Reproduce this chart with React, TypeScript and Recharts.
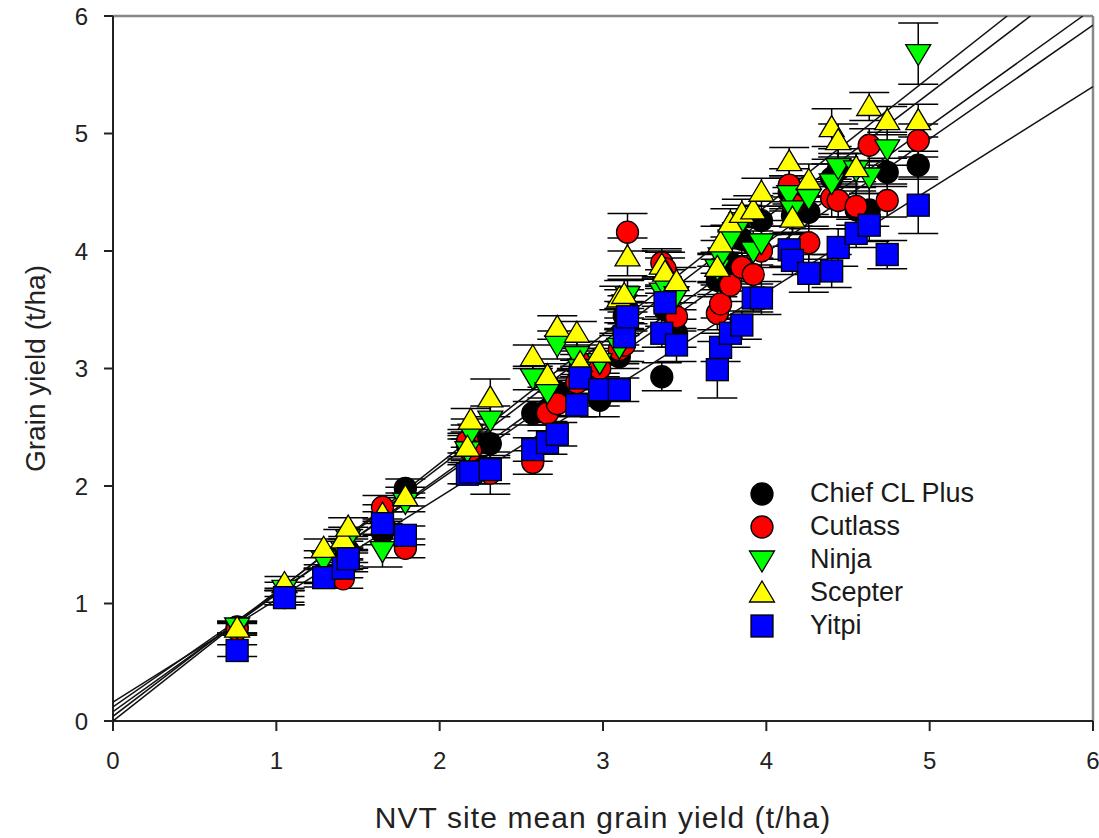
import React from 'react';
import { ScatterChart, Scatter, XAxis, YAxis, ErrorBar, Legend, ReferenceLine, Label } from 'recharts';

// NVT site mean grain yield (t/ha)
const sites = [0.76, 1.05, 1.29, 1.41, 1.44, 1.65, 1.79, 2.17, 2.19, 2.31, 2.57, 2.66, 2.72, 2.84, 2.86, 2.98, 3.10, 3.13, 3.15, 3.36, 3.38, 3.45, 3.70, 3.72, 3.78, 3.85, 3.92, 3.97, 4.14, 4.16, 4.26, 4.40, 4.44, 4.55, 4.63, 4.74, 4.93];

const chiefY = [0.80, 1.07, 1.25, 1.40, 1.45, 1.60, 1.98, 2.35, 2.40, 2.36, 2.62, 2.65, 2.80, 2.88, 2.95, 2.73, 3.10, 3.45, 3.50, 2.93, 3.50, 3.30, 3.75, 3.85, 3.90, 4.10, 4.05, 4.26, 4.50, 4.30, 4.33, 4.62, 4.69, 4.35, 4.35, 4.67, 4.73];
const chiefErr = [0.05, 0.06, 0.08, 0.08, 0.10, 0.10, 0.08, 0.10, 0.12, 0.12, 0.10, 0.10, 0.12, 0.10, 0.12, 0.14, 0.10, 0.12, 0.12, 0.12, 0.14, 0.12, 0.12, 0.14, 0.12, 0.14, 0.12, 0.12, 0.14, 0.16, 0.14, 0.16, 0.14, 0.16, 0.14, 0.12, 0.12];

const cutlassY = [0.78, 1.05, 1.24, 1.21, 1.35, 1.82, 1.47, 2.38, 2.30, 2.11, 2.20, 2.62, 2.70, 2.88, 3.05, 3.00, 3.16, 3.20, 4.16, 3.90, 3.85, 3.44, 3.47, 3.55, 3.71, 3.86, 3.80, 4.00, 4.56, 4.40, 4.07, 4.45, 4.43, 4.38, 4.90, 4.43, 4.94];
const cutlassErr = [0.05, 0.06, 0.06, 0.08, 0.08, 0.10, 0.08, 0.10, 0.10, 0.18, 0.10, 0.10, 0.10, 0.12, 0.12, 0.12, 0.12, 0.14, 0.16, 0.12, 0.14, 0.12, 0.14, 0.12, 0.14, 0.12, 0.14, 0.14, 0.14, 0.14, 0.14, 0.16, 0.14, 0.16, 0.14, 0.14, 0.14];

const ninjaY = [0.80, 1.12, 1.37, 1.45, 1.55, 1.45, 1.86, 2.30, 2.45, 2.56, 2.92, 2.80, 3.20, 3.11, 3.00, 3.05, 3.18, 3.55, 3.62, 3.65, 3.70, 3.62, 3.85, 3.95, 4.10, 4.25, 4.00, 4.07, 4.48, 4.35, 4.45, 4.58, 4.71, 4.69, 4.63, 4.87, 5.68];
const ninjaErr = [0.05, 0.06, 0.08, 0.08, 0.10, 0.14, 0.08, 0.10, 0.12, 0.12, 0.10, 0.10, 0.12, 0.12, 0.12, 0.12, 0.12, 0.12, 0.14, 0.12, 0.14, 0.12, 0.12, 0.14, 0.12, 0.14, 0.12, 0.14, 0.14, 0.14, 0.14, 0.16, 0.16, 0.14, 0.14, 0.14, 0.26];

const scepterY = [0.79, 1.17, 1.47, 1.55, 1.65, 1.76, 1.91, 2.33, 2.56, 2.75, 3.10, 2.94, 3.35, 3.30, 3.05, 3.13, 3.60, 3.63, 3.95, 3.88, 3.82, 3.74, 3.86, 4.07, 4.24, 4.32, 4.35, 4.50, 4.76, 4.28, 4.60, 5.05, 4.94, 4.71, 5.23, 5.11, 5.11];
const scepterErr = [0.05, 0.06, 0.08, 0.08, 0.08, 0.08, 0.08, 0.10, 0.10, 0.16, 0.10, 0.10, 0.10, 0.10, 0.10, 0.10, 0.10, 0.12, 0.16, 0.12, 0.12, 0.12, 0.12, 0.14, 0.12, 0.12, 0.12, 0.12, 0.12, 0.12, 0.14, 0.16, 0.14, 0.12, 0.12, 0.12, 0.14];

const yitpiY = [0.60, 1.05, 1.22, 1.30, 1.38, 1.68, 1.58, 2.10, 2.12, 2.14, 2.31, 2.37, 2.44, 2.69, 2.92, 2.82, 2.82, 3.27, 3.44, 3.30, 3.56, 3.20, 2.99, 3.18, 3.30, 3.37, 3.60, 3.60, 4.01, 3.92, 3.81, 3.83, 4.03, 4.15, 4.22, 3.97, 4.39];
const yitpiErr = [0.05, 0.06, 0.08, 0.08, 0.08, 0.10, 0.08, 0.08, 0.10, 0.12, 0.10, 0.10, 0.10, 0.10, 0.10, 0.14, 0.10, 0.12, 0.12, 0.12, 0.12, 0.14, 0.24, 0.12, 0.12, 0.12, 0.12, 0.14, 0.14, 0.12, 0.16, 0.14, 0.16, 0.12, 0.14, 0.12, 0.24];

// regression lines y = a + b x
const lineIntercepts = [0.0, 0.04, 0.08, 0.12, 0.16];
const lineSlopes = [1.096, 1.061, 0.997, 0.967, 0.873];

const xTicks = [0, 1, 2, 3, 4, 5, 6];
const yTicks = [0, 1, 2, 3, 4, 5, 6];

const FONT = '"Liberation Sans", Arial, sans-serif';

type Kind = 'circle' | 'down' | 'up' | 'square';

const makeShape = (kind: Kind, fill: string) => (props: any) => {
  const { cx, cy } = props;
  if (cx == null || cy == null) return <g />;
  const s = { fill, stroke: '#000', strokeWidth: 1.3 };
  if (kind === 'circle') return <circle cx={cx} cy={cy} r={11} {...s} />;
  if (kind === 'square') return <rect x={cx - 11} y={cy - 11} width={22} height={22} {...s} />;
  if (kind === 'up') return <polygon points={`${cx},${cy - 12} ${cx + 12.5},${cy + 9} ${cx - 12.5},${cy + 9}`} {...s} />;
  return <polygon points={`${cx - 12.5},${cy - 9} ${cx + 12.5},${cy - 9} ${cx},${cy + 12}`} {...s} />;
};

const series = [
  { name: 'Chief CL Plus', ys: chiefY, errs: chiefErr, fill: '#000000', kind: 'circle' as Kind },
  { name: 'Cutlass', ys: cutlassY, errs: cutlassErr, fill: '#ff0000', kind: 'circle' as Kind },
  { name: 'Ninja', ys: ninjaY, errs: ninjaErr, fill: '#00ff00', kind: 'down' as Kind },
  { name: 'Scepter', ys: scepterY, errs: scepterErr, fill: '#ffff00', kind: 'up' as Kind },
  { name: 'Yitpi', ys: yitpiY, errs: yitpiErr, fill: '#0000ff', kind: 'square' as Kind },
];

const seriesData = series.map((s) => sites.map((x, i) => ({ x, y: s.ys[i], err: s.errs[i] })));

const regressionData = lineIntercepts.map((a, i) => {
  const b = lineSlopes[i];
  const xEnd = Math.min(6, (6 - a) / b);
  return [{ x: 0, y: a }, { x: xEnd, y: a + b * xEnd }];
});

const LegendContent = () => (
  <div style={{ fontFamily: FONT, fontSize: 27, color: '#1a1a1a' }}>
    {series.map((s) => (
      <div key={s.name} style={{ display: 'flex', alignItems: 'center', height: 33 }}>
        <svg width={30} height={30} style={{ marginRight: 33, flex: 'none' }}>
          {makeShape(s.kind, s.fill)({ cx: 15, cy: 15 })}
        </svg>
        <span style={{ whiteSpace: 'nowrap' }}>{s.name}</span>
      </div>
    ))}
  </div>
);

export default function App() {
  return (
    <div style={{ position: 'absolute', left: 0, top: 0, width: 1099, height: 838, background: '#fff' }}>
      <ScatterChart width={1099} height={838} margin={{ top: 16, right: 6, left: 0, bottom: 0 }}>
        <XAxis
          type="number"
          dataKey="x"
          domain={[0, 6]}
          ticks={xTicks}
          allowDataOverflow
          height={117}
          stroke="#222"
          strokeWidth={2}
          tickSize={10}
          tickMargin={21}
          tick={{ fill: '#222', fontSize: 24, fontFamily: FONT }}
        >
          <Label value="NVT site mean grain yield (t/ha)" position="insideBottom" offset={10} style={{ fill: '#222', fontSize: 30, fontFamily: FONT, letterSpacing: 1.1 }} />
        </XAxis>
        <YAxis
          type="number"
          dataKey="y"
          domain={[0, 6]}
          ticks={yTicks}
          allowDataOverflow
          width={113}
          stroke="#222"
          strokeWidth={2}
          tickSize={9}
          tickMargin={16}
          tick={{ fill: '#222', fontSize: 24, fontFamily: FONT }}
        >
          <Label value="Grain yield (t/ha)" angle={-90} position="insideLeft" offset={35} style={{ textAnchor: 'middle', fill: '#222', fontSize: 28, fontFamily: FONT }} />
        </YAxis>
        <ReferenceLine y={6} stroke="#888" strokeWidth={2.5} />
        <ReferenceLine x={6} stroke="#888" strokeWidth={2.5} />
        {regressionData.map((d, i) => (
          <Scatter
            key={`reg${i}`}
            data={d}
            line={{ stroke: '#111', strokeWidth: 1.5 }}
            shape={() => <g />}
            legendType="none"
            isAnimationActive={false}
          />
        ))}
        {series.map((s, i) => (
          <Scatter
            key={s.name}
            name={s.name}
            data={seriesData[i]}
            shape={makeShape(s.kind, s.fill)}
            isAnimationActive={false}
          >
            <ErrorBar dataKey="err" direction="y" width={20} stroke="#000" strokeWidth={1.5} />
          </Scatter>
        ))}
        <Legend
          content={LegendContent}
          layout="vertical"
          verticalAlign="middle"
          align="center"
          wrapperStyle={{ position: 'absolute', left: 747, top: 477, width: 300 }}
        />
      </ScatterChart>
    </div>
  );
}
